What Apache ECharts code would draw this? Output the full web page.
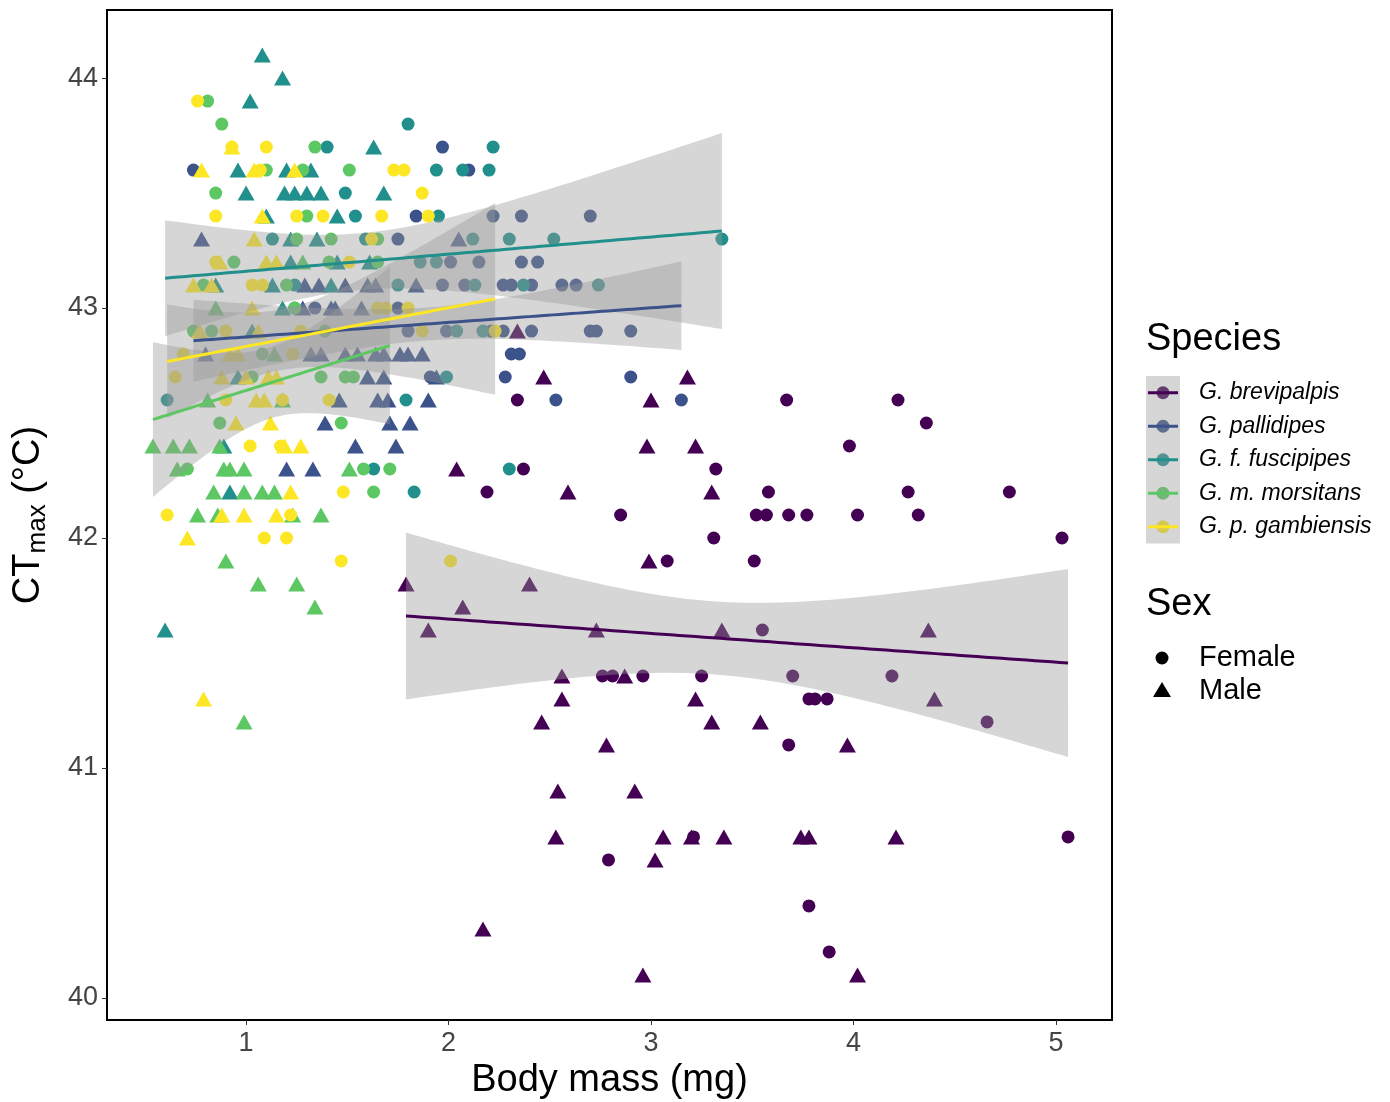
<!DOCTYPE html>
<html>
<head>
<meta charset="utf-8">
<script src="https://cdn.jsdelivr.net/npm/echarts@6/dist/echarts.min.js"></script>
<style>
  html, body { margin: 0; padding: 0; background: #ffffff; }
  #chart { width: 1390px; height: 1102px; }
</style>
</head>
<body>
<div id="chart"></div>
<script>
// ---- Data: [body mass (mg), CTmax (°C)] per species and sex ----
const speciesNames = ['G. brevipalpis', 'G. pallidipes', 'G. f. fuscipipes', 'G. m. morsitans', 'G. p. gambiensis'];
const speciesColors = ['#440154', '#3B528B', '#21908C', '#5DC863', '#FDE725'];
const sexNames = ['Female', 'Male'];
const xTicks = [1, 2, 3, 4, 5];
const yTicks = [40, 41, 42, 43, 44];

const brevipalpisFemale = [
  [2.34,42.6],[2.37,42.3],[2.19,42.2],[3.32,42.3],[2.85,42.1],[3.31,42.0],[3.08,41.9],[3.51,41.9],
  [3.67,42.6],[3.98,42.4],[4.22,42.6],[4.36,42.5],[3.58,42.2],[4.27,42.2],[4.77,42.2],[3.52,42.1],
  [3.57,42.1],[3.68,42.1],[3.77,42.1],[4.02,42.1],[4.32,42.1],[5.03,42.0],[3.55,41.6],[2.76,41.4],
  [2.81,41.4],[2.96,41.4],[3.25,41.4],[3.70,41.4],[4.19,41.4],[3.78,41.3],[3.81,41.3],[3.87,41.3],
  [4.66,41.2],[3.68,41.1],[3.21,40.7],[5.06,40.7],[2.79,40.6],[3.78,40.4],[3.88,40.2]
];
const brevipalpisMale = [
  [2.34,42.9],[2.47,42.7],[3.18,42.7],[2.04,42.3],[2.59,42.2],[3.00,42.6],[2.98,42.4],[3.22,42.4],
  [3.30,42.2],[2.99,41.9],[1.79,41.8],[2.40,41.8],[2.07,41.7],[1.90,41.6],[2.73,41.6],[3.35,41.6],
  [4.37,41.6],[2.56,41.4],[2.87,41.4],[2.56,41.3],[3.22,41.3],[4.40,41.3],[2.46,41.2],[3.30,41.2],
  [3.54,41.2],[2.78,41.1],[3.97,41.1],[2.54,40.9],[2.92,40.9],[2.53,40.7],[3.06,40.7],[3.20,40.7],
  [3.36,40.7],[3.74,40.7],[3.78,40.7],[4.21,40.7],[3.02,40.6],[2.17,40.3],[2.96,40.1],[4.02,40.1]
];
const pallidipesFemale = [
  [0.74,43.6],[1.97,43.7],[2.10,43.6],[1.84,43.4],[2.22,43.4],[2.36,43.4],[2.70,43.4],[1.75,43.3],
  [2.01,43.2],[2.15,43.2],[2.36,43.2],[2.44,43.2],[1.97,43.1],[2.08,43.1],[2.27,43.1],[2.31,43.1],
  [2.41,43.1],[2.56,43.1],[2.63,43.1],[1.34,43.0],[1.75,43.0],[1.80,42.9],[1.99,42.9],[2.21,42.9],
  [2.27,42.9],[2.41,42.9],[2.70,42.9],[2.73,42.9],[2.90,42.9],[2.31,42.8],[2.35,42.8],[1.91,42.7],
  [2.28,42.7],[2.90,42.7],[2.53,42.6],[3.15,42.6]
];
const pallidipesMale = [
  [0.78,43.3],[2.05,43.3],[1.29,43.1],[1.36,43.1],[1.49,43.1],[1.60,43.1],[1.64,43.1],[1.84,43.1],
  [1.28,43.0],[1.42,43.0],[1.44,43.0],[1.57,43.0],[0.80,42.8],[1.32,42.8],[1.37,42.8],[1.49,42.8],
  [1.55,42.8],[1.64,42.8],[1.68,42.8],[1.76,42.8],[1.80,42.8],[1.87,42.8],[1.60,42.7],[1.68,42.7],
  [1.94,42.7],[1.46,42.6],[1.65,42.6],[1.70,42.6],[1.90,42.6],[1.39,42.5],[1.71,42.5],[1.81,42.5],
  [1.54,42.4],[1.74,42.4],[1.20,42.3],[1.33,42.3]
];
const fuscipipesFemale = [
  [1.80,43.8],[1.40,43.7],[2.22,43.7],[1.94,43.6],[2.07,43.6],[2.20,43.6],[1.49,43.5],[1.54,43.4],
  [1.95,43.4],[1.13,43.3],[1.59,43.3],[2.12,43.3],[2.30,43.3],[2.52,43.3],[3.35,43.3],[1.86,43.2],
  [1.94,43.2],[1.24,43.1],[1.75,43.1],[2.13,43.1],[2.37,43.1],[2.74,43.1],[1.24,43.0],[2.04,42.9],
  [2.17,42.9],[1.99,42.7],[0.61,42.6],[1.79,42.6],[1.63,42.3],[2.30,42.3],[1.83,42.2]
];
const fuscipipesMale = [
  [1.08,44.1],[1.18,44.0],[1.02,43.9],[1.63,43.7],[0.96,43.6],[1.20,43.6],[1.32,43.6],[1.00,43.5],
  [1.19,43.5],[1.24,43.5],[1.30,43.5],[1.37,43.5],[1.68,43.5],[1.10,43.4],[1.45,43.4],[1.22,43.3],
  [1.35,43.3],[1.22,43.2],[1.45,43.2],[1.61,43.2],[0.85,43.1],[1.13,43.1],[1.42,43.1],[1.18,43.0],
  [1.03,42.9],[0.96,42.7],[0.89,42.4],[0.92,42.2],[0.60,41.6]
];
const morsitansFemale = [
  [0.81,43.9],[0.88,43.8],[1.34,43.7],[1.10,43.6],[1.28,43.6],[1.51,43.6],[0.85,43.5],[1.30,43.4],
  [1.25,43.3],[1.42,43.3],[1.65,43.3],[0.94,43.2],[1.41,43.2],[1.65,43.2],[0.79,43.1],[1.20,43.1],
  [1.24,43.0],[0.74,42.9],[0.83,42.9],[1.39,42.9],[1.08,42.8],[1.03,42.7],[1.37,42.7],[1.49,42.7],
  [1.53,42.7],[0.87,42.5],[1.47,42.5],[0.71,42.3],[1.58,42.3],[1.71,42.3],[1.63,42.2]
];
const morsitansMale = [
  [1.28,43.2],[0.85,43.0],[1.14,42.8],[0.81,42.6],[1.18,42.6],[0.54,42.4],[0.64,42.4],[0.72,42.4],
  [0.87,42.4],[0.66,42.3],[0.89,42.3],[0.92,42.3],[0.99,42.3],[1.51,42.3],[0.84,42.2],[0.99,42.2],
  [1.08,42.2],[1.14,42.2],[0.76,42.1],[0.86,42.1],[1.23,42.1],[1.37,42.1],[0.90,41.9],[1.06,41.8],
  [1.25,41.8],[1.34,41.7],[0.99,41.2]
];
const gambiensisFemale = [
  [0.76,43.9],[0.93,43.7],[1.10,43.7],[1.07,43.6],[1.73,43.6],[1.78,43.6],[1.87,43.5],[0.85,43.4],
  [1.25,43.4],[1.38,43.4],[1.67,43.4],[1.90,43.4],[1.62,43.3],[0.85,43.2],[1.51,43.2],[1.03,43.1],
  [1.08,43.1],[1.65,43.0],[1.69,43.0],[1.80,43.0],[0.90,42.9],[1.27,42.9],[1.87,42.9],[2.23,42.9],
  [0.69,42.8],[1.23,42.8],[0.65,42.7],[0.90,42.6],[1.18,42.6],[1.41,42.6],[1.02,42.4],[1.17,42.4],
  [1.48,42.2],[0.61,42.1],[1.22,42.1],[1.09,42.0],[1.20,42.0],[1.47,41.9],[2.01,41.9]
];
const gambiensisMale = [
  [0.93,43.7],[0.78,43.6],[1.04,43.6],[1.24,43.6],[1.08,43.4],[1.04,43.3],[0.87,43.2],[1.10,43.2],
  [1.15,43.2],[0.74,43.1],[0.83,43.1],[1.03,43.0],[0.77,42.9],[1.06,42.9],[0.92,42.8],[0.96,42.8],
  [0.88,42.7],[1.00,42.7],[1.11,42.7],[1.15,42.7],[1.05,42.6],[1.09,42.6],[0.95,42.5],[1.12,42.5],
  [1.19,42.4],[1.27,42.4],[1.22,42.2],[0.88,42.1],[0.99,42.1],[1.15,42.1],[0.71,42.0],[0.79,41.3]
];

const groups = [
  [brevipalpisFemale, brevipalpisMale],
  [pallidipesFemale, pallidipesMale],
  [fuscipipesFemale, fuscipipesMale],
  [morsitansFemale, morsitansMale],
  [gambiensisFemale, gambiensisMale]
];

// ---- Ordinary least squares fit with a 95% confidence band ----
function tQuantile975(df) {
  const z = 1.959964;
  return z + (Math.pow(z, 3) + z) / (4 * df) +
    (5 * Math.pow(z, 5) + 16 * Math.pow(z, 3) + 3 * z) / (96 * df * df);
}
function linearFit(pts, steps) {
  const n = pts.length;
  let sx = 0, sy = 0;
  pts.forEach(p => { sx += p[0]; sy += p[1]; });
  const mx = sx / n, my = sy / n;
  let sxx = 0, sxy = 0;
  pts.forEach(p => { sxx += (p[0] - mx) ** 2; sxy += (p[0] - mx) * (p[1] - my); });
  const b = sxy / sxx, a = my - b * mx;
  let sse = 0;
  pts.forEach(p => { sse += (p[1] - a - b * p[0]) ** 2; });
  const s = Math.sqrt(sse / (n - 2));
  const t = tQuantile975(n - 2);
  const xs = pts.map(p => p[0]);
  const xmin = Math.min(...xs), xmax = Math.max(...xs);
  const band = [];
  for (let i = 0; i <= steps; i++) {
    const x = xmin + (xmax - xmin) * i / steps;
    const y = a + b * x;
    const se = s * Math.sqrt(1 / n + (x - mx) ** 2 / sxx);
    band.push([x, y, y - t * se, y + t * se]);
  }
  return band;
}

const fits = groups.map(g => linearFit(g[0].concat(g[1]), 80));

const FONT = "'Liberation Sans', Arial, sans-serif";
const series = [];

// points
groups.forEach((g, i) => {
  series.push({
    type: 'scatter', name: speciesNames[i] + ' ' + sexNames[0], data: g[0],
    symbol: 'circle', symbolSize: 13, z: 2,
    itemStyle: { color: speciesColors[i], opacity: 1 }, silent: true
  });
  series.push({
    type: 'scatter', name: speciesNames[i] + ' ' + sexNames[1], data: g[1],
    symbol: 'triangle', symbolSize: [17, 15], z: 2,
    itemStyle: { color: speciesColors[i], opacity: 1 }, silent: true
  });
});

// confidence ribbons
fits.forEach((band, i) => {
  series.push({
    type: 'custom', name: speciesNames[i] + ' band', z: 3, silent: true,
    data: [[band[0][0], band[0][1]]],
    renderItem: function (params, api) {
      const upper = band.map(r => api.coord([r[0], r[3]]));
      const lower = band.slice().reverse().map(r => api.coord([r[0], r[2]]));
      return {
        type: 'polygon',
        shape: { points: upper.concat(lower) },
        style: { fill: 'rgba(153,153,153,0.4)', stroke: null }
      };
    }
  });
});

// fitted lines
fits.forEach((band, i) => {
  series.push({
    type: 'line', name: speciesNames[i] + ' fit', z: 4, silent: true,
    data: band.map(r => [r[0], r[1]]),
    showSymbol: false, symbol: 'none',
    lineStyle: { color: speciesColors[i], width: 3 }
  });
});

// legend drawn as graphic elements
const graphics = [];
graphics.push({ type: 'text', x: 1146, y: 340, style: { text: 'Species', font: '38px ' + FONT, fill: '#000', textAlign: 'left', textVerticalAlign: 'middle' } });
const keyTop = 376, keyH = 33.5;
speciesNames.forEach((name, i) => {
  const cy = keyTop + keyH * (i + 0.5);
  graphics.push({ type: 'circle', shape: { cx: 1163, cy: cy, r: 6.5 }, style: { fill: speciesColors[i] }, z: 1 });
});
graphics.push({ type: 'rect', shape: { x: 1146, y: keyTop, width: 34, height: keyH * 5 }, style: { fill: 'rgba(153,153,153,0.4)' }, z: 2 });
speciesNames.forEach((name, i) => {
  const cy = keyTop + keyH * (i + 0.5);
  graphics.push({ type: 'line', shape: { x1: 1148, y1: cy, x2: 1178, y2: cy }, style: { stroke: speciesColors[i], lineWidth: 3 }, z: 3 });
  graphics.push({ type: 'text', x: 1199, y: cy, style: { text: name, font: 'italic 23px ' + FONT, fill: '#000', textAlign: 'left', textVerticalAlign: 'middle' }, z: 3 });
});
graphics.push({ type: 'text', x: 1146, y: 605, style: { text: 'Sex', font: '38px ' + FONT, fill: '#000', textAlign: 'left', textVerticalAlign: 'middle' } });
graphics.push({ type: 'circle', shape: { cx: 1162, cy: 658, r: 6.5 }, style: { fill: '#000' } });
graphics.push({ type: 'polygon', shape: { points: [[1153, 697], [1171, 697], [1162, 682]] }, style: { fill: '#000' } });
graphics.push({ type: 'text', x: 1199, y: 658, style: { text: sexNames[0], font: '29px ' + FONT, fill: '#000', textAlign: 'left', textVerticalAlign: 'middle' } });
graphics.push({ type: 'text', x: 1199, y: 691, style: { text: sexNames[1], font: '29px ' + FONT, fill: '#000', textAlign: 'left', textVerticalAlign: 'middle' } });

const chart = echarts.init(document.getElementById('chart'), null, { renderer: 'canvas' });
chart.setOption({
  animation: false,
  backgroundColor: '#ffffff',
  grid: {
    left: 107, right: 278, top: 10, bottom: 82,
    outerBoundsMode: 'none', containLabel: false,
    show: true, borderColor: '#000', borderWidth: 2, backgroundColor: 'transparent'
  },
  xAxis: {
    type: 'value', min: 0.313, max: 5.277,
    name: 'Body mass (mg)', nameLocation: 'middle', nameGap: 40,
    nameTextStyle: { fontSize: 38, color: '#000', fontFamily: FONT },
    axisLine: { show: true, lineStyle: { color: '#000', width: 2 } },
    axisTick: { show: true, length: 5, customValues: xTicks, lineStyle: { color: '#333' } },
    axisLabel: { customValues: xTicks, fontSize: 27, color: '#444', fontFamily: FONT, margin: 10 },
    splitLine: { show: false }
  },
  yAxis: {
    type: 'value', min: 39.904, max: 44.296,
    name: '{t|CT}{s|max}{t| (°C)}', nameLocation: 'middle', nameGap: 56, nameRotate: 90,
    nameTextStyle: {
      color: '#000', fontFamily: FONT,
      rich: {
        t: { fontSize: 38, lineHeight: 44, fontFamily: FONT, color: '#000', verticalAlign: 'middle' },
        s: { fontSize: 26, lineHeight: 26, fontFamily: FONT, color: '#000', verticalAlign: 'bottom' }
      }
    },
    axisLine: { show: true, lineStyle: { color: '#000', width: 2 } },
    axisTick: { show: true, length: 5, customValues: yTicks, lineStyle: { color: '#333' } },
    axisLabel: { customValues: yTicks, fontSize: 27, color: '#444', fontFamily: FONT, margin: 9 },
    splitLine: { show: false }
  },
  graphic: graphics,
  series: series
});
</script>
</body>
</html>
